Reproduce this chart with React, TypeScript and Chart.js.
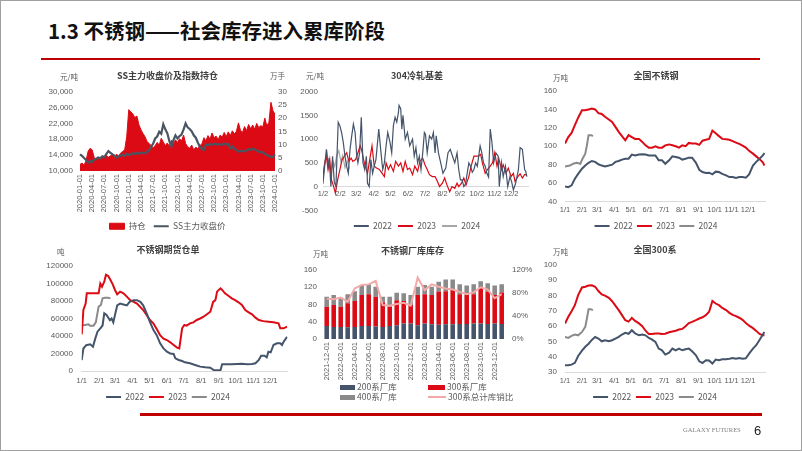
import React, { useEffect, useRef } from "react";
import { Chart, registerables } from "chart.js";

Chart.register(...registerables);

const LATIN = "'Liberation Sans', Arial, 'Noto Sans CJK SC', sans-serif";
const CJK = "'Noto Sans CJK SC', 'Liberation Sans', sans-serif";
const TXT = "#595959";
const TITLE_C = "#404040";
const DARK = "#44546A";
const RED = "#DC0A14";
const GRAY = "#8A8A8A";
const LIGHT = "#A6A6A6";
const PINK = "#F4A9A9";
const AXIS = "#D9D9D9";

// ---------------- Chart 1: SS主力收盘价及指数持仓 ----------------
const ssDates: string[] = (() => {
  const out: string[] = [];
  for (let y = 2020; y <= 2023; y++) {
    for (let m = 1; m <= 12; m++) {
      const mm = String(m).padStart(2, "0");
      out.push(`${y}-${mm}-01`, `${y}-${mm}-16`);
    }
  }
  out.push("2024-01-01");
  return out;
})();
const ssClose = [
  14200, 13800, 13300, 12800, 12100, 12500, 12300, 12900, 13100, 13400, 13200, 13700,
  13500, 14300, 15000, 14600, 14200, 13900, 13400, 13700, 13900, 14100, 13800, 14300,
  14000, 14200, 14500, 14300, 14600, 14400, 14500, 14700, 14500, 14800, 15200, 16100,
  16900, 18200, 18700, 19900, 19400, 21800, 20500, 19500, 17500, 16200, 17800, 19000,
  18200, 18800, 19200, 20500, 22000, 21000, 20600, 20000, 19000, 18400, 17200, 16100,
  15600, 15300, 16700, 16500, 16800, 16600, 16900, 16700, 16800, 16600, 16700, 16900,
  16700, 16800, 15700, 16200, 15600, 15300, 14900, 15000, 15100, 14900, 15200, 15500,
  15300, 15600, 15400, 15200, 14900, 14700, 14800, 14300, 14000, 13800, 13600, 13500,
  14200,
];
const ssOpenInterest = [
  2.5, 3.0, 2.2, 4.0, 7.5, 8.6, 8.0, 5.0, 4.6, 5.2, 4.4, 5.6,
  4.8, 6.0, 5.2, 5.8, 6.2, 5.0, 6.4, 5.6, 6.8, 7.4, 8.0, 13.0,
  23.2, 22.4, 21.6, 20.2, 20.8, 17.5, 15.6, 14.2, 13.0, 11.2, 10.4, 9.6,
  8.8, 9.6, 10.8, 9.8, 12.4, 11.0, 9.6, 10.6, 9.4, 11.6, 10.2, 11.8,
  10.8, 12.2, 11.4, 13.6, 10.4, 9.2, 8.6, 9.8, 8.0, 9.0, 8.4, 9.6,
  10.2, 12.6, 11.4, 13.4, 12.0, 14.4, 12.6, 13.2, 11.8, 13.6, 12.8, 14.6,
  13.0, 14.8, 13.4, 15.2, 14.0, 15.0, 18.2, 15.4, 14.6, 16.8, 15.2, 17.6,
  16.0, 17.4, 15.8, 18.0, 16.4, 17.2, 16.6, 20.0, 17.0, 18.4, 26.0, 22.8,
  21.4,
];
const ssShownTick = /-(01|04|07|10)-01$/;

// ---------------- Chart 2: 304冷轧基差 ----------------
const basisTickDays = [1, 32, 60, 91, 121, 152, 182, 213, 244, 274, 305, 335];
const basisTickLabels = ["1/2", "2/2", "3/2", "4/2", "5/2", "6/2", "7/2", "8/2", "9/2", "10/2", "11/2", "12/2"];
const basisDays2022 = [
  1, 4, 7, 10, 12, 15, 18, 21, 24, 26, 28, 31, 34, 37, 40, 43, 46, 49, 52, 55,
  58, 61, 63, 66, 69, 72, 75, 78, 80, 83, 86, 89, 92, 95, 100, 104, 107, 110, 113, 116,
  120, 123, 126, 129, 132, 135, 136, 139, 141, 143, 147, 151, 155, 160, 163, 166, 169, 172, 175, 178,
  181, 183, 186, 190, 194, 197, 200, 202, 206, 210, 214, 219, 223, 227, 231, 235, 239, 242, 245, 248,
  251, 254, 257, 260, 263, 266, 269, 272, 275, 280, 283, 286, 289, 292, 295, 298, 301, 304, 308, 312,
  314, 318, 321, 325, 329, 333, 336, 339, 343, 348, 351, 355, 359, 361, 363,
];
const basis2022 = [
  60, 430, 785, 430, 600, 0, 640, 100, 0, 700, 1356, 1280, 1140, 930, 640, 430, 280, 785, 1070, 1320,
  1140, 640, 500, 710, 1460, 500, 360, 640, 70, 0, 570, 280, 430, 570, 1210, 710, 360, 500, 860, 1140,
  930, 710, 1285, 1460, 1360, 1570, 1710, 1640, 1210, 1500, 1000, 1140, 860, 1000, 640, 820, 500, 640, 360, 700,
  1140, 1100, 710, 1070, 1000, 1140, 710, 1070, 710, 500, 280, 390, 714, 785, 640, 500, 710, 360, 140, 140,
  0, 50, 280, 500, 430, 300, 360, 500, 430, 857, 710, 500, 430, 280, 200, 1214, 930, 500, 710, 640,
  0, 500, 210, 430, 0, 210, 100, -70, 70, 360, 820, 785, 360, 320, 210,
];
const basisDays2023 = [
  1, 4, 7, 10, 13, 16, 20, 23, 27, 31, 35, 39, 43, 47, 51, 54, 59, 63, 67, 70,
  73, 76, 80, 83, 88, 92, 96, 101, 106, 110, 113, 117, 121, 126, 130, 135, 139, 143, 147, 151,
  155, 160, 164, 169, 173, 178, 182, 186, 190, 195, 200, 204, 208, 213, 217, 221, 226, 230, 235, 239,
  242, 247, 251, 255, 260, 264, 269, 273, 277, 281, 284, 289, 293, 298, 302, 306, 310, 313, 318, 321,
  326, 330, 335, 339, 342, 347, 351, 355, 359, 363,
];
const basis2023 = [
  200, 500, 640, 360, 570, 140, 0, -140, 140, 360, 570, 640, 714, 530, 600, 530, 570, 714, 860, 750,
  570, 430, 280, 500, 860, 430, 390, 360, 280, 210, 500, 360, 460, 320, 530, 430, 500, 320, 530, 360,
  390, 250, 430, 320, 530, 600, 460, 360, 250, 210, 210, 110, 0, 70, 180, 36, -110, 0, -36, 70,
  0, 70, 180, 36, 210, 430, 640, 640, 640, 680, 500, 280, 360, 430, 500, 714, 430, 600, 360, 460,
  280, 390, 210, 280, 110, 210, 270, 180, 250, 250,
];
const basisDays2024 = [2, 5, 8, 11, 15, 18, 22, 25, 29, 33, 36, 40, 44, 48];
const basis2024 = [320, 560, 720, 480, 300, 560, 420, 640, 760, 520, 660, 400, 540, 380];

// ---------------- Month ticks (charts 3, 4, 6) ----------------
const monthTickDays = [0, 31, 59, 90, 120, 151, 181, 212, 243, 273, 304, 334];
const monthTickLabels = ["1/1", "2/1", "3/1", "4/1", "5/1", "6/1", "7/1", "8/1", "9/1", "10/1", "11/1", "12/1"];
const sampleDays = [
  0, 6, 12, 18, 24, 31, 37, 43, 49, 55, 61, 67, 73, 80, 86, 92, 98, 104, 110, 116,
  122, 128, 135, 141, 147, 153, 159, 165, 171, 177, 183, 190, 196, 202, 208, 214, 220, 226, 232, 239,
  245, 251, 257, 263, 269, 275, 281, 287, 294, 300, 306, 312, 318, 324, 330, 336, 343, 349, 355, 361,
  364,
];

// ---------------- Chart 3: 全国不锈钢 (万吨) ----------------
const ssStock2022 = [
  56.4, 55.6, 57.5, 64.7, 70, 75.6, 79, 82, 84, 83, 80.4, 79, 78, 79, 80, 83, 84, 85.5, 86.5, 86.5,
  91, 90, 91, 91.3, 91, 90, 90, 90, 84.7, 84.7, 81, 84.7, 89, 88.4, 87.6, 85.5, 86.5, 87.6, 87.6, 82,
  74.5, 72, 71, 71.3, 69.5, 72.4, 72, 70, 68.4, 66.5, 66.5, 65.5, 66.5, 66.5, 65.8, 69.5, 79, 83, 86.5, 90,
  92.7,
];
const ssStock2023 = [
  103, 110, 114.5, 123, 131, 139, 139, 140, 141, 140, 136, 135, 132, 129, 126.5, 121, 115.6, 111, 106.5, 112,
  110, 108, 108, 104.7, 101, 98.5, 98.5, 100, 98.5, 98.5, 101, 102, 101, 100, 98.5, 101, 100, 103.6, 103, 103,
  101.5, 106, 107, 108, 117, 114, 111, 108, 107.5, 107, 105.5, 104, 102.5, 100.7, 98.5, 95, 92, 89, 86, 82.5,
  79,
];
const ssStockDays2024 = [0, 9, 15, 21, 28, 32, 37, 40, 43, 48, 51];
const ssStock2024 = [78, 79, 81, 82, 81, 86.5, 92, 101, 112, 112, 111];

// ---------------- Chart 4: 不锈钢期货仓单 (吨) ----------------
const whDays2022 = [
  0, 3, 8, 15, 20, 24, 28, 33, 37, 40, 44, 50, 53, 56, 59, 63, 68, 74, 80, 85,
  92, 98, 104, 109, 115, 121, 127, 133, 139, 145, 151, 157, 163, 166, 172, 178, 183, 192, 201, 210,
  219, 228, 234, 240, 246, 249, 257, 266, 275, 284, 293, 302, 308, 314, 318, 324, 328, 331, 335, 340,
  346, 352, 355, 358, 364,
];
const wh2022 = [
  12400, 25700, 29500, 30500, 27800, 37000, 45000, 48800, 52000, 66000, 64000, 58000, 60000, 55600, 64000, 75000, 77000, 76000, 75000, 79000,
  81000, 81000, 79000, 75000, 66000, 56000, 47000, 41000, 31600, 25900, 22000, 20000, 19400, 14500, 12600, 11400, 9900, 8800, 6900, 5000,
  4200, 3800, 1100, 800, 800, 7600, 7600, 7600, 8000, 8400, 7600, 8000, 8800, 12600, 17500, 17500, 15600, 22000, 21300, 29700,
  31600, 31600, 29700, 33500, 39000,
];
const whDays2023 = [
  0, 3, 7, 9, 15, 24, 30, 33, 36, 40, 43, 47, 51, 55, 59, 63, 68, 74, 80, 86,
  92, 98, 104, 109, 115, 121, 127, 133, 139, 145, 151, 157, 163, 169, 173, 178, 182, 186, 192, 198,
  204, 210, 216, 222, 228, 233, 237, 240, 246, 249, 254, 260, 266, 272, 278, 284, 290, 296, 302, 308,
  314, 322, 331, 340, 349, 352, 358, 364,
];
const wh2023 = [
  41900, 69700, 77000, 88800, 88800, 88800, 88800, 100000, 96400, 102000, 110000, 108600, 104000, 99000, 92600, 87600, 90700, 88800, 85000, 81000,
  79000, 77000, 73000, 69700, 64000, 58300, 54500, 48000, 41000, 37000, 35400, 32800, 29700, 26700, 25900, 48800, 52600, 51800, 54500, 55600,
  58300, 60000, 62000, 64800, 67800, 79000, 81000, 90700, 94500, 92600, 88800, 86000, 83000, 81000, 78500, 75400, 69700, 67000, 64800, 61000,
  58300, 57000, 56400, 55600, 54500, 48800, 48800, 50700,
];
const whDays2024 = [0, 6, 12, 15, 21, 25, 30, 34, 37, 41, 47, 51];
const wh2024 = [52600, 52600, 53300, 51800, 51800, 55600, 73500, 75400, 83000, 83800, 83800, 83000];

// ---------------- Chart 5: 不锈钢厂库库存 ----------------
const invMonths = [
  "2021-12-01", "2022-01-01", "2022-02-01", "2022-03-01", "2022-04-01", "2022-05-01", "2022-06-01",
  "2022-07-01", "2022-08-01", "2022-09-01", "2022-10-01", "2022-11-01", "2022-12-01", "2023-01-01",
  "2023-02-01", "2023-03-01", "2023-04-01", "2023-05-01", "2023-06-01", "2023-07-01", "2023-08-01",
  "2023-09-01", "2023-10-01", "2023-11-01", "2023-12-01", "2024-01-01",
];
const inv200 = [30, 28, 28, 27, 28, 30, 30, 29, 28, 30, 32, 36, 36, 32, 36, 34, 33, 34, 34, 35, 35, 36, 36, 35, 36, 35];
const inv300 = [45, 51, 47, 56, 60, 72, 74, 69, 57, 45, 58, 52, 43, 70, 68, 68, 77, 77, 80, 69, 67, 68, 83, 75, 66, 73];
const inv400 = [23, 23, 21, 21, 23, 23, 23, 23, 13, 23, 17, 18, 23, 19, 21, 19, 23, 27, 24, 23, 22, 23, 15, 19, 22, 19];
const invRatio300 = [70, 69, 72, 65, 88, 94, 95, 101, 59, 58, 61, 63, 58, 107, 85, 95, 91, 88, 86, 82, 78, 81, 90, 86, 71, 78];

// ---------------- Chart 6: 全国300系 (万吨) ----------------
const s300_2022 = [
  34.4, 34.4, 34.8, 36, 40.5, 44, 46.5, 48.5, 51, 53, 51.9, 50.1, 50.8, 50.1, 50.8, 51.9, 53, 54.5, 55.6, 55,
  57.3, 55.2, 54, 54.5, 54, 52.3, 51.2, 49.7, 45.3, 44.2, 41.4, 42.7, 45.3, 44.2, 45.3, 44.2, 44.9, 45.3, 43.6, 40.9,
  37, 35.9, 37.7, 37.5, 35.5, 38.1, 37.7, 38.3, 38.3, 38.7, 39.2, 38.7, 39.2, 38.7, 39, 42, 45.3, 47.5, 51, 54.5,
  56.2,
];
const s300_2023 = [
  61.7, 66.1, 69.8, 73.7, 80.3, 85.3, 85.8, 86.6, 86.7, 85.8, 83, 80.7, 80, 78.5, 76.3, 73.4, 70.5, 67.2, 63.9, 63,
  65.4, 63.4, 61.8, 60, 57, 54.8, 54.8, 55.2, 55.2, 54.8, 55, 56, 56.5, 57, 57.8, 58.2, 60, 62, 62.8, 63.9,
  65, 65.8, 67.2, 69.4, 76.5, 74.8, 73.7, 71.9, 70.5, 68.7, 67.4, 66.6, 65.5, 64.1, 62.1, 60.3, 58.7, 56.9, 54.9, 54,
  54,
];
const s300Days2024 = [0, 6, 12, 18, 24, 31, 37, 40, 43, 47, 51];
const s300_2024 = [53, 52.3, 53.6, 54.5, 54, 56.2, 59.5, 65, 71.1, 71.1, 70.5];

// ---------------- helpers ----------------
const pts = (xs: number[], ys: number[]) => xs.map((x, i) => ({ x, y: ys[i] }));
const tickFont = (size = 8) => ({ family: LATIN, size });
const noGrid = { display: false, drawTicks: false, tickLength: 0, drawOnChartArea: false };

function titleOpt(text: string, top: number, bottom: number) {
  return {
    display: true,
    text,
    color: TITLE_C,
    font: { family: CJK, size: 9, weight: "bold" as const, lineHeight: 1.2 },
    padding: { top, bottom },
  };
}

function legendOpt(padding: number, spacer = 0) {
  return {
    display: true,
    position: "bottom" as const,
    labels: {
      usePointStyle: true,
      pointStyleWidth: 15,
      boxHeight: 6,
      padding,
      color: TXT,
      font: { family: CJK, size: 8.5 },
      sort: (a: any, b: any) => a.datasetIndex - b.datasetIndex,
    },
    title:
      spacer > 0
        ? { display: true, text: "", font: { size: 1, lineHeight: 1 }, padding: { top: spacer - 1, bottom: 0 } }
        : { display: false },
  };
}

function yAxis(o: { position?: string; min: number; max: number; step: number; width: number; padding: number; fmt: (v: number) => string; size?: number }) {
  return {
    type: "linear",
    position: o.position ?? "left",
    min: o.min,
    max: o.max,
    grid: noGrid,
    border: { display: false },
    ticks: { stepSize: o.step, padding: o.padding, color: TXT, font: tickFont(o.size), callback: (v: any) => o.fmt(Number(v)) },
    afterFit: (s: any) => {
      s.width = o.width;
    },
  };
}

function spacerAxis(width: number) {
  return {
    type: "linear",
    position: "right",
    display: true,
    grid: noGrid,
    border: { display: false },
    ticks: { display: false },
    afterFit: (s: any) => {
      s.width = width;
    },
  };
}

function dayAxis(tickDays: number[], tickLabels: string[], min: number, max: number, padding: number, height?: number, atZero = false) {
  const ax: any = {
    type: "linear",
    min,
    max,
    position: atZero ? { y: 0 } : "bottom",
    grid: noGrid,
    border: { display: true, color: AXIS, width: 1 },
    ticks: {
      autoSkip: false,
      maxRotation: 0,
      minRotation: 0,
      padding,
      color: TXT,
      font: tickFont(7.5),
      callback: (_v: any, i: number) => tickLabels[i] ?? "",
    },
    afterBuildTicks: (s: any) => {
      s.ticks = tickDays.map((v) => ({ value: v }));
    },
  };
  if (height !== undefined) {
    ax.afterFit = (s: any) => {
      s.height = height;
    };
  }
  return ax;
}

function lineDs(label: string, data: any[], color: string, width: number) {
  return {
    label,
    data,
    borderColor: color,
    backgroundColor: color,
    borderWidth: width,
    pointRadius: 0,
    pointHoverRadius: 0,
    pointStyle: "line",
    pointBorderWidth: 2,
    tension: 0,
    fill: false,
  };
}

function baseOptions(pb: number, plugins: any, scales: any) {
  return {
    responsive: false,
    maintainAspectRatio: false,
    animation: false,
    events: [],
    layout: { padding: { top: 0, left: 0, right: 0, bottom: pb } },
    plugins: { ...plugins, tooltip: { enabled: false } },
    scales,
  };
}

const plain = (v: number) => String(v);

// ---------------- chart configs ----------------
function makeChart1(): any {
  return {
    type: "line",
    data: {
      labels: ssDates,
      datasets: [
        {
          label: "持仓",
          data: ssOpenInterest,
          yAxisID: "y1",
          borderColor: RED,
          backgroundColor: RED,
          borderWidth: 1,
          fill: "origin",
          pointRadius: 0,
          pointStyle: "rect",
          tension: 0,
          order: 1,
        },
        { ...lineDs("SS主力收盘价", ssClose, "#4A5562", 2.2), yAxisID: "y", order: 0 },
      ],
    },
    options: baseOptions(
      1.5,
      { title: titleOpt("SS主力收盘价及指数持仓", 6.6, 10.3), legend: legendOpt(8) },
      {
        x: {
          type: "category",
          offset: false,
          grid: noGrid,
          border: { display: false },
          ticks: {
            autoSkip: false,
            maxRotation: 90,
            minRotation: 90,
            padding: 3,
            color: TXT,
            font: tickFont(7.5),
            callback: (_v: any, i: number) => (ssShownTick.test(ssDates[i]) ? ssDates[i] : ""),
          },
          afterFit: (s: any) => {
            s.height = 43;
          },
        },
        y: yAxis({ min: 10000, max: 30000, step: 2000, width: 40, padding: 7, size: 8, fmt: (v) => v.toLocaleString("en-US") }),
        y1: yAxis({ position: "right", min: 0, max: 30, step: 5, width: 20, padding: 3, size: 8, fmt: plain }),
      }
    ),
  };
}

function makeChart2(): any {
  return {
    type: "line",
    data: {
      datasets: [
        lineDs("2022", pts(basisDays2022, basis2022), DARK, 1.2),
        lineDs("2023", pts(basisDays2023, basis2023), RED, 1.2),
        lineDs("2024", pts(basisDays2024, basis2024), LIGHT, 1.2),
      ],
    },
    options: baseOptions(
      0.75,
      { title: titleOpt("304冷轧基差", 6.6, 10.3), legend: legendOpt(6, 5.45) },
      {
        x: dayAxis(basisTickDays, basisTickLabels, 1, 365, 3, undefined, true),
        y: yAxis({ min: -500, max: 2000, step: 500, width: 33, padding: 5, fmt: plain }),
        yR: spacerAxis(16),
      }
    ),
  };
}

function makeChart3(): any {
  return {
    type: "line",
    data: {
      datasets: [
        lineDs("2022", pts(sampleDays, ssStock2022), DARK, 2),
        lineDs("2023", pts(sampleDays, ssStock2023), RED, 2),
        lineDs("2024", pts(ssStockDays2024, ssStock2024), GRAY, 2),
      ],
    },
    options: baseOptions(
      0.75,
      { title: titleOpt("全国不锈钢", 6.6, 9.6), legend: legendOpt(4.25) },
      {
        x: dayAxis(monthTickDays, monthTickLabels, 0, 365, 4, 16),
        y: yAxis({ min: 40, max: 160, step: 20, width: 35, padding: 8, fmt: plain }),
        yR: spacerAxis(17),
      }
    ),
  };
}

function makeChart4(): any {
  return {
    type: "line",
    data: {
      datasets: [
        lineDs("2022", pts(whDays2022, wh2022), DARK, 2),
        lineDs("2023", pts(whDays2023, wh2023), RED, 2),
        lineDs("2024", pts(whDays2024, wh2024), GRAY, 2),
      ],
    },
    options: baseOptions(
      0.75,
      { title: titleOpt("不锈钢期货仓单", 6.6, 10.6), legend: legendOpt(4.75) },
      {
        x: dayAxis(monthTickDays, monthTickLabels, 0, 365, 5, 17),
        y: yAxis({ min: 0, max: 120000, step: 20000, width: 41.7, padding: 8.7, fmt: plain }),
        yR: spacerAxis(8.4),
      }
    ),
  };
}

function makeChart5(): any {
  const bar = (label: string, data: number[], color: string) => ({
    type: "bar",
    label,
    data,
    backgroundColor: color,
    borderWidth: 0,
    yAxisID: "y",
    stack: "inv",
    barPercentage: 0.65,
    categoryPercentage: 1,
    order: 1,
  });
  return {
    type: "bar",
    data: {
      labels: invMonths,
      datasets: [
        bar("200系厂库", inv200, DARK),
        bar("300系厂库", inv300, RED),
        bar("400系厂库", inv400, GRAY),
        { ...lineDs("300系总计库销比", invRatio300, PINK, 2), type: "line", yAxisID: "y1", order: -1 },
      ],
    },
    options: baseOptions(
      0,
      { title: titleOpt("不锈钢厂库库存", 6.6, 13.6), legend: { display: false } },
      {
        x: {
          type: "category",
          stacked: true,
          offset: true,
          grid: noGrid,
          border: { display: false },
          ticks: {
            autoSkip: false,
            maxRotation: 90,
            minRotation: 90,
            padding: 3,
            color: TXT,
            font: tickFont(7.5),
            callback: (_v: any, i: number) => (i % 2 === 0 ? invMonths[i] : ""),
          },
          afterFit: (s: any) => {
            s.height = 47;
          },
        },
        y: { ...yAxis({ min: 0, max: 160, step: 20, width: 33.2, padding: 6.2, fmt: plain }), stacked: true },
        y1: yAxis({ position: "right", min: 0, max: 120, step: 20, width: 29.8, padding: 6.8, fmt: (v) => v + "%" }),
      }
    ),
  };
}

function makeChart6(): any {
  return {
    type: "line",
    data: {
      datasets: [
        lineDs("2022", pts(sampleDays, s300_2022), DARK, 2),
        lineDs("2023", pts(sampleDays, s300_2023), RED, 2),
        lineDs("2024", pts(s300Days2024, s300_2024), GRAY, 2),
      ],
    },
    options: baseOptions(
      0.75,
      { title: titleOpt("全国300系", 6.6, 9.6), legend: legendOpt(4.75) },
      {
        x: dayAxis(monthTickDays, monthTickLabels, 0, 365, 4, 16),
        y: yAxis({ min: 30, max: 100, step: 10, width: 35, padding: 8, fmt: plain }),
        yR: spacerAxis(15),
      }
    ),
  };
}

// ---------------- components ----------------
function ChartBox(props: { left: number; top: number; width: number; height: number; make: () => any }) {
  const ref = useRef<HTMLCanvasElement | null>(null);
  useEffect(() => {
    if (!ref.current) return;
    const chart = new Chart(ref.current, props.make());
    return () => chart.destroy();
  }, []);
  return (
    <canvas
      ref={ref}
      width={props.width}
      height={props.height}
      style={{ position: "absolute", left: props.left, top: props.top, width: props.width, height: props.height }}
    />
  );
}

function Txt(props: { left: number; cy: number; size: number; children: React.ReactNode; family?: string; color?: string; weight?: number }) {
  return (
    <div
      style={{
        position: "absolute",
        left: props.left,
        top: props.cy - props.size * 0.55,
        fontSize: props.size,
        lineHeight: 1,
        fontFamily: props.family ?? CJK,
        color: props.color ?? TXT,
        fontWeight: props.weight ?? 400,
        whiteSpace: "nowrap",
      }}
    >
      {props.children}
    </div>
  );
}

function Swatch(props: { left: number; cy: number; w: number; h: number; color: string }) {
  return (
    <div
      style={{
        position: "absolute",
        left: props.left,
        top: props.cy - props.h / 2,
        width: props.w,
        height: props.h,
        background: props.color,
      }}
    />
  );
}

export default function App() {
  return (
    <div
      style={{
        position: "fixed",
        left: 0,
        top: 0,
        width: 802,
        height: 451,
        background: "#ffffff",
        overflow: "hidden",
      }}
    >
      {/* header */}
      <Txt left={48} cy={31} size={20.5} family={CJK} color="#111111" weight={700}>
        1.3 不锈钢——社会库存进入累库阶段
      </Txt>
      <div style={{ position: "absolute", left: 41, top: 58, width: 719, height: 2, background: "#C00000" }} />

      {/* charts */}
      <ChartBox left={40} top={64} width={255} height={178} make={makeChart1} />
      <ChartBox left={290} top={64} width={254} height={177} make={makeChart2} />
      <ChartBox left={530} top={64} width={252} height={177} make={makeChart3} />
      <ChartBox left={40} top={238} width={256} height={174} make={makeChart4} />
      <ChartBox left={290} top={239} width={245} height={147} make={makeChart5} />
      <ChartBox left={530} top={238} width={250} height={174} make={makeChart6} />

      {/* unit labels */}
      <Txt left={60} cy={77} size={7.5}>元/吨</Txt>
      <Txt left={270} cy={76} size={7.5}>万手</Txt>
      <Txt left={306} cy={76} size={7.5}>元/吨</Txt>
      <Txt left={553} cy={78} size={7.5}>万吨</Txt>
      <Txt left={57} cy={252} size={7.5}>吨</Txt>
      <Txt left={313} cy={254} size={7.5}>万吨</Txt>
      <Txt left={553} cy={252} size={7.5}>万吨</Txt>

      {/* chart 5 legend */}
      <Swatch left={340} cy={387} w={15} h={5} color={DARK} />
      <Txt left={357} cy={387} size={8.5}>200系厂库</Txt>
      <Swatch left={428} cy={387} w={17} h={5} color={RED} />
      <Txt left={447} cy={387} size={8.5}>300系厂库</Txt>
      <Swatch left={340} cy={397} w={15} h={5} color={GRAY} />
      <Txt left={357} cy={397} size={8.5}>400系厂库</Txt>
      <Swatch left={428} cy={397} w={18} h={2} color={PINK} />
      <Txt left={448} cy={397} size={8.5}>300系总计库销比</Txt>

      {/* footer */}
      <div style={{ position: "absolute", left: 140, top: 413, width: 622, height: 3, background: "#C00000" }} />
      <Txt left={683} cy={431} size={6.5} family="'Liberation Serif', serif" color="#7F7F7F">
        GALAXY FUTURES
      </Txt>
      <Txt left={754} cy={431} size={13} family={LATIN} color="#222222">
        6
      </Txt>

      {/* page frame */}
      <div
        style={{
          position: "absolute",
          left: 0,
          top: 0,
          width: 802,
          height: 451,
          boxSizing: "border-box",
          border: "1px solid #A0A0A0",
          pointerEvents: "none",
        }}
      />
    </div>
  );
}
